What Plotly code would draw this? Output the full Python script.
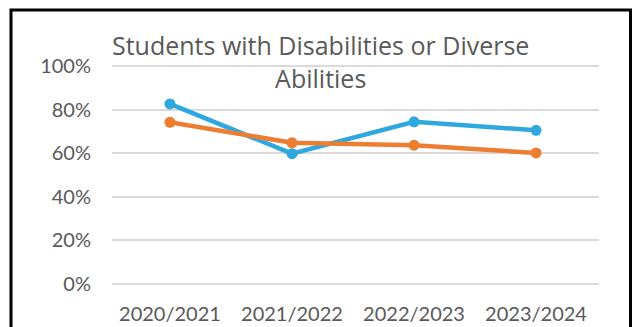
import plotly.graph_objects as go

# School years on the category axis
years = ["2020/2021", "2021/2022", "2022/2023", "2023/2024"]

# Share of students with disabilities or diverse abilities (fractions)
series_blue = [0.826, 0.598, 0.744, 0.705]
series_orange = [0.742, 0.648, 0.637, 0.601]

# Y-axis tick values and labels
y_ticks = [0, 0.2, 0.4, 0.6, 0.8, 1.0]
y_tick_labels = ["0%", "20%", "40%", "60%", "80%", "100%"]

title_text = "Students with Disabilities or Diverse<br>Abilities"

BLUE = "#2EA8DF"
ORANGE = "#ED7D31"
TEXT = "#595959"
FONT = "Lato"
TITLE_FONT = "Open Sans"

fig = go.Figure()
fig.add_trace(go.Scatter(
    x=years, y=series_blue, mode="lines+markers", name="Series 1",
    line=dict(color=BLUE, width=4.5),
    marker=dict(color=BLUE, size=11, symbol="circle"),
))
fig.add_trace(go.Scatter(
    x=years, y=series_orange, mode="lines+markers", name="Series 2",
    line=dict(color=ORANGE, width=4.5),
    marker=dict(color=ORANGE, size=11, symbol="circle"),
))

W, H = 632, 327
L, R, T, B = 112, 33, 60, 37
pw, ph = W - L - R, H - T - B


def px_x(px):
    return (px - L) / pw


def px_y(py):
    return (H - B - py) / ph


fig.update_layout(
    width=W, height=H,
    margin=dict(l=L, r=R, t=T, b=B),
    paper_bgcolor="white", plot_bgcolor="white",
    showlegend=False,
    font=dict(family=FONT, color=TEXT, size=20),
    xaxis=dict(
        type="category", range=[-0.475, 3.516],
        showgrid=False, showline=False, zeroline=False, ticks="",
        tickfont=dict(family=FONT, size=20, color=TEXT),
        ticklabelstandoff=10, automargin=False,
    ),
    yaxis=dict(
        range=[-6 / 218, 1 + 6 / 218],
        tickvals=y_ticks, ticktext=y_tick_labels,
        showgrid=True, gridcolor="#D9D9D9", gridwidth=2,
        showline=False, zeroline=False, ticks="",
        tickfont=dict(family=FONT, size=20, color=TEXT),
        ticklabelstandoff=20, automargin=False,
    ),
    annotations=[dict(
        text=title_text, xref="paper", yref="paper",
        x=px_x(320), y=px_y(62), xanchor="center", yanchor="middle",
        showarrow=False, align="center",
        font=dict(family=TITLE_FONT, size=25, color=TEXT),
    )],
    shapes=[dict(
        type="rect", xref="paper", yref="paper",
        x0=px_x(11), x1=px_x(630.5), y0=px_y(345), y1=px_y(10),
        line=dict(color="black", width=3), fillcolor="rgba(0,0,0,0)",
        layer="above",
    )],
)

fig.write_html("out.html")
